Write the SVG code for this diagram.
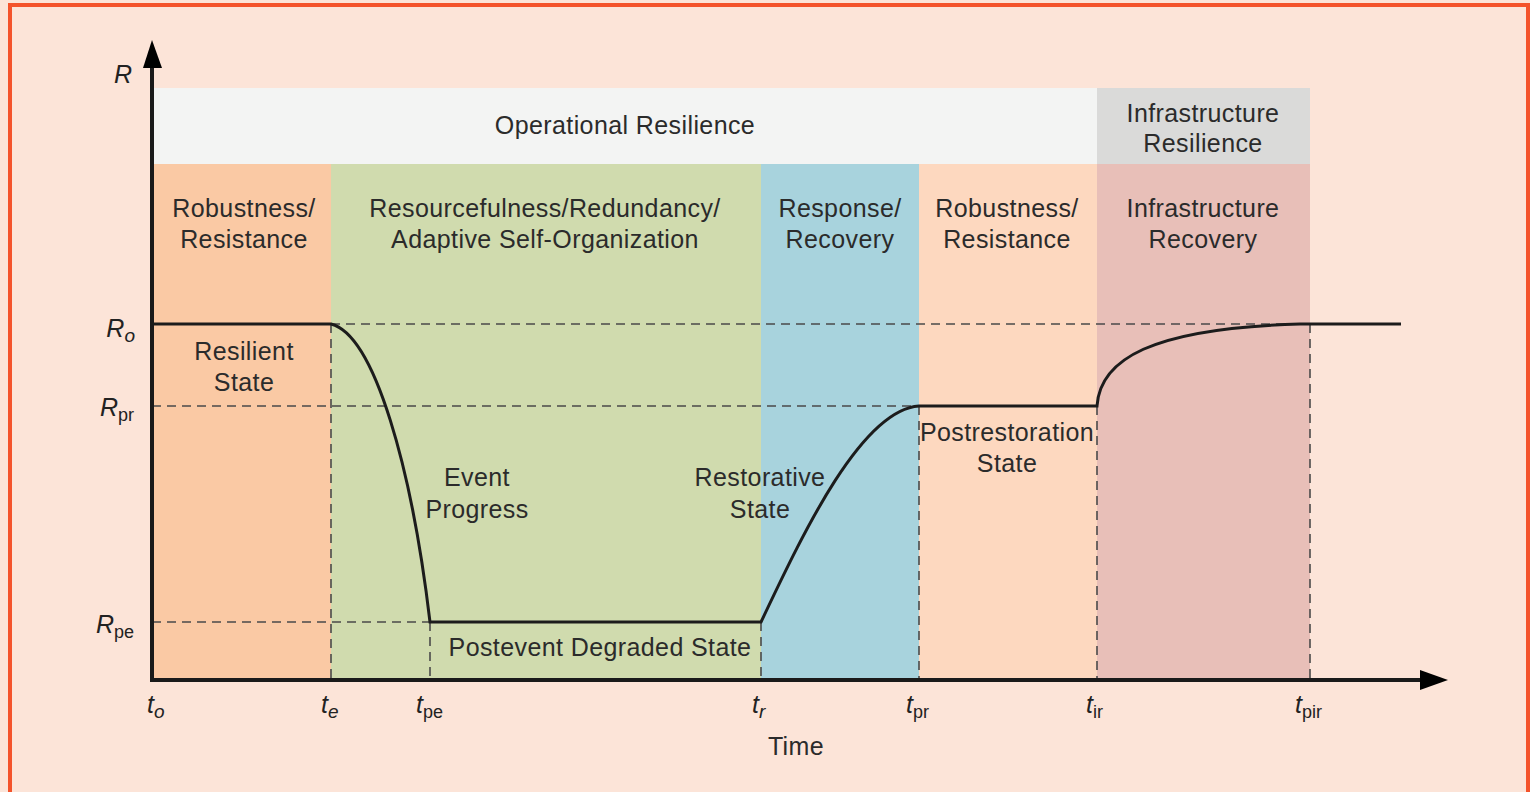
<svg xmlns="http://www.w3.org/2000/svg" width="1530" height="792" viewBox="0 0 1530 792">
<defs>
<style>
.t{font-family:"Liberation Sans",Arial,sans-serif;font-size:25px;letter-spacing:0.4px;fill:#2b2b2b;text-anchor:middle}
.ax{font-family:"Liberation Sans",Arial,sans-serif;font-size:25px;fill:#222}
.it{font-style:italic}
.sub{font-size:18px;font-style:normal}
.dash{stroke:#4a4a4a;stroke-width:1.6;stroke-dasharray:9 6;fill:none}
.curve{stroke:#1c1c1c;stroke-width:3;fill:none}
</style>
</defs>
<rect x="0" y="0" width="1530" height="792" fill="#fce4d8"/>
<path d="M10,800 V5 H1528 V800" fill="none" stroke="#f4532b" stroke-width="4"/>
<g id="bands">
<rect x="154" y="88" width="943" height="76" fill="#f3f4f3"/>
<rect x="1097" y="88" width="213" height="76" fill="#dadad9"/>
<rect x="154" y="164" width="177" height="516" fill="#fac9a4"/>
<rect x="331" y="164" width="430" height="516" fill="#d0dbae"/>
<rect x="761" y="164" width="158" height="516" fill="#a8d3dd"/>
<rect x="919" y="164" width="178" height="516" fill="#fdd8bf"/>
<rect x="1097" y="164" width="213" height="516" fill="#e8bfb8"/>
</g>
<g id="connectors">
<path class="dash" d="M331,324 H1300 M152,406 H919 M152,622 H430 M331,324 V680 M430,622 V680 M761,622 V680 M919,406 V680 M1097,406 V680 M1310,324 V680"/>
<path class="curve" d="M152,324 H331 C375,335 412,470 430,622 H761 C800,540 860,410 919,406 H1097 C1100,360 1150,328 1300,324 H1401"/>
<line x1="152" y1="682" x2="152" y2="66" stroke="#1a1a1a" stroke-width="4"/>
<polygon points="152,40 143,68 162,68" fill="#000"/>
<line x1="150" y1="680" x2="1424" y2="680" stroke="#1a1a1a" stroke-width="4"/>
<polygon points="1448,680 1420,670 1420,690" fill="#000"/>
</g>
<g id="labels">
<text class="t" x="625" y="134">Operational Resilience</text>
<text class="t" x="1203" y="122">Infrastructure</text>
<text class="t" x="1203" y="152">Resilience</text>
<text class="t" x="244" y="217">Robustness/</text>
<text class="t" x="244" y="248">Resistance</text>
<text class="t" x="545" y="217">Resourcefulness/Redundancy/</text>
<text class="t" x="545" y="248">Adaptive Self-Organization</text>
<text class="t" x="840" y="217">Response/</text>
<text class="t" x="840" y="248">Recovery</text>
<text class="t" x="1007" y="217">Robustness/</text>
<text class="t" x="1007" y="248">Resistance</text>
<text class="t" x="1203" y="217">Infrastructure</text>
<text class="t" x="1203" y="248">Recovery</text>
<text class="t" x="244" y="360">Resilient</text>
<text class="t" x="244" y="391">State</text>
<text class="t" x="477" y="486">Event</text>
<text class="t" x="477" y="518">Progress</text>
<text class="t" x="760" y="486">Restorative</text>
<text class="t" x="760" y="518">State</text>
<text class="t" x="1007" y="441">Postrestoration</text>
<text class="t" x="1007" y="472">State</text>
<text class="t" x="600" y="656">Postevent Degraded State</text>
<text class="t" x="796" y="755">Time</text>
</g>
<g id="axis-labels">
<text class="ax it" x="114" y="83">R</text>
<text class="ax" x="135" y="337" text-anchor="end"><tspan class="it">R</tspan><tspan class="it" font-size="19" dy="5">o</tspan></text>
<text class="ax" x="134" y="416" text-anchor="end"><tspan class="it">R</tspan><tspan class="sub" dy="5">pr</tspan></text>
<text class="ax" x="134" y="633" text-anchor="end"><tspan class="it">R</tspan><tspan class="sub" dy="5">pe</tspan></text>
<text class="ax" x="147" y="713"><tspan class="it">t</tspan><tspan class="it" font-size="19" dy="5">o</tspan></text>
<text class="ax" x="321" y="713"><tspan class="it">t</tspan><tspan class="it" font-size="19" dy="5">e</tspan></text>
<text class="ax" x="416" y="713"><tspan class="it">t</tspan><tspan class="sub" dy="5">pe</tspan></text>
<text class="ax" x="752" y="713"><tspan class="it">t</tspan><tspan class="it" font-size="19" dy="5">r</tspan></text>
<text class="ax" x="906" y="713"><tspan class="it">t</tspan><tspan class="sub" dy="5">pr</tspan></text>
<text class="ax" x="1086" y="713"><tspan class="it">t</tspan><tspan class="sub" dy="5">ir</tspan></text>
<text class="ax" x="1295" y="713"><tspan class="it">t</tspan><tspan class="sub" dy="5">pir</tspan></text>
</g>
</svg>
